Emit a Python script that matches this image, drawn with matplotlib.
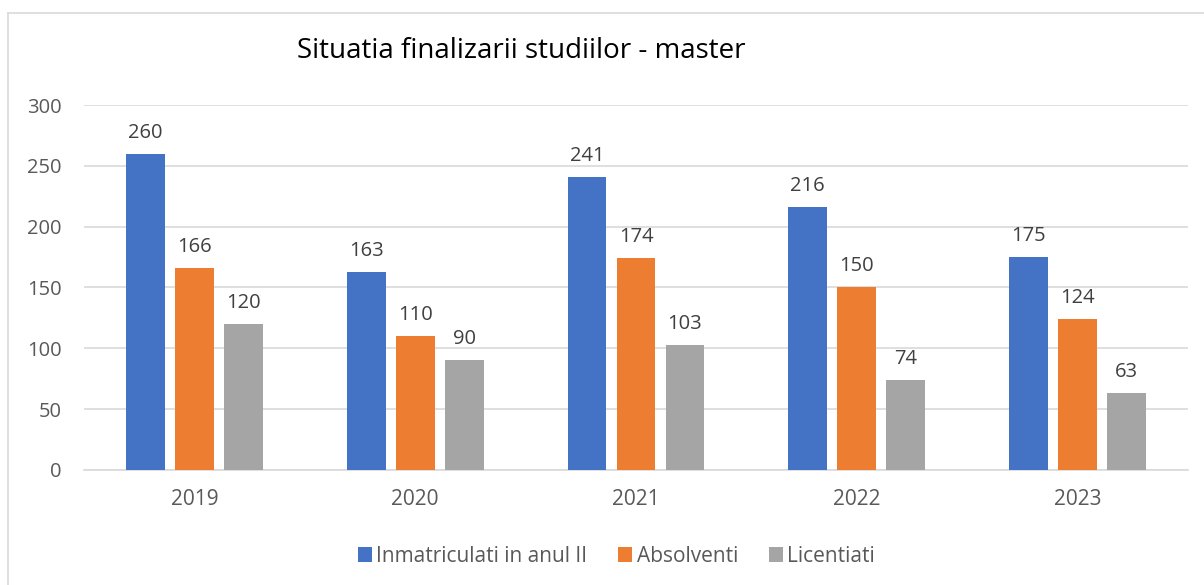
import numpy as np
import matplotlib.pyplot as plt
from matplotlib.lines import Line2D

plt.rcParams["font.family"] = ["Open Sans", "DejaVu Sans"]

years = ["2019", "2020", "2021", "2022", "2023"]
inmatriculati = [260, 163, 241, 216, 175]
absolventi = [166, 110, 174, 150, 124]
licentiati = [120, 90, 103, 74, 63]

series = [
    ("Inmatriculati in anul II", inmatriculati, "#4472C4"),
    ("Absolventi", absolventi, "#ED7D31"),
    ("Licentiati", licentiati, "#A5A5A5"),
]

fig = plt.figure(figsize=(12.04, 5.85), dpi=100)
ax = fig.add_axes([0.0698, 0.1966, 0.9169, 0.6239])

x = np.arange(len(years))
width = 0.175
step = 0.222

for i, (name, vals, col) in enumerate(series):
    pos = x + (i - 1) * step
    bars = ax.bar(pos, vals, width, color=col, label=name, zorder=3)
    for b, v in zip(bars, vals):
        ax.annotate(str(v), (b.get_x() + b.get_width() / 2, v),
                    xytext=(0, 8), textcoords="offset points",
                    ha="center", va="bottom", fontsize=14.5, color="#404040")

ax.set_xlim(-0.5, len(years) - 0.5)
ax.set_ylim(0, 300)
ax.set_yticks(range(0, 301, 50))
ax.set_xticks(x)
ax.set_xticklabels(years)
ax.grid(axis="y", color="#D9D9D9", linewidth=1.2, zorder=0)
for s in ["top", "right", "left"]:
    ax.spines[s].set_visible(False)
ax.spines["bottom"].set_color("#D9D9D9")
ax.spines["bottom"].set_linewidth(1.2)
ax.tick_params(axis="both", length=0, labelsize=14.5, colors="#595959")
ax.tick_params(axis="x", pad=14, labelsize=15)
ax.tick_params(axis="y", pad=16)

fig.text(0.4327, 0.912, "Situatia finalizarii studiilor - master",
         ha="center", va="center", fontsize=20, color="#000000")

ax.legend(loc="center", bbox_to_anchor=(0.512, 0.049), bbox_transform=fig.transFigure,
          ncol=3, frameon=False, fontsize=15, handlelength=0.67, handleheight=0.67,
          columnspacing=1.5, handletextpad=0.2, labelcolor="#595959")

# chart border (left and top edges visible)
fig.add_artist(Line2D([8 / 1204, 8 / 1204], [0, 1 - 13 / 585], color="#D9D9D9", lw=1.2))
fig.add_artist(Line2D([8 / 1204, 1], [1 - 13 / 585, 1 - 13 / 585], color="#D9D9D9", lw=1.2))

plt.savefig("out.png", dpi=100)
